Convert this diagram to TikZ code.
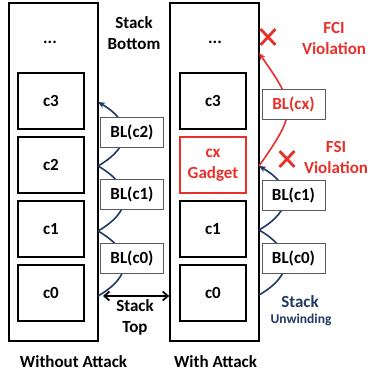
\documentclass[tikz,border=0pt]{standalone}
\usepackage{fontspec}
\setmainfont{Carlito}
\usetikzlibrary{arrows.meta,shapes.misc}
\definecolor{unwindblue}{RGB}{31,56,100}
\definecolor{attackred}{RGB}{232,48,42}
\definecolor{blgray}{RGB}{90,90,90}
\begin{document}
\begin{tikzpicture}[x=1pt,y=1pt,
  frame/.style={draw,line width=1.8pt,minimum width=89pt,minimum height=338pt,inner sep=0pt},
  cell/.style={draw,line width=1.8pt,minimum width=66pt,minimum height=56pt,align=center,font=\fontsize{17}{21}\selectfont\bfseries},
  blbox/.style={draw=blgray,line width=0.8pt,fill=white,minimum width=63pt,minimum height=30pt,inner sep=1pt,font=\fontsize{17}{20}\selectfont\bfseries},
  lbl/.style={align=center,font=\fontsize{17}{21}\selectfont\bfseries},
  ret/.style={unwindblue,line width=1.6pt},
  xmark/.style={cross out,draw=attackred,line width=2.8pt,minimum width=12pt,minimum height=13pt,inner sep=0pt}
]
\useasboundingbox (0,0) rectangle (371,374);

% Stack frames
\node[frame] (frameL) at (53.5,202) {};
\node[frame] (frameR) at (214.5,202) {};

% Without attack
\node[lbl] (dotsL) at (50,332) {...};
\node[cell] (c3L) at (51,273) {c3};
\node[cell] (c2L) at (51,209) {c2};
\node[cell] (c1L) at (51,145) {c1};
\node[cell] (c0L) at (51,81) {c0};

% With attack
\node[lbl] (dotsR) at (215,332) {...};
\node[cell] (c3R) at (213,273) {c3};
\node[cell,draw=attackred,text=attackred] (cxR) at (213,209) {cx\\Gadget};
\node[cell] (c1R) at (213,145) {c1};
\node[cell] (c0R) at (213,81) {c0};

% Return points on the frame edges
\coordinate (l0) at (98,78);
\coordinate (l1) at (98,143);
\coordinate (l2) at (98,208);
\coordinate (l3) at (98,272);
\coordinate (r0) at (259,79);
\coordinate (r1) at (259,144);
\coordinate (r2) at (259,208);
\coordinate (r3) at (259,321);

% Unwinding curves
\draw[ret] (l0) to[out=30,in=-30,looseness=1.6] (l1);
\draw[ret] (l1) to[out=30,in=-30,looseness=1.6] (l2);
\draw[ret,-{Stealth[length=7pt,width=6pt]}] (l2) to[out=30,in=-30,looseness=1.6] (l3);
\draw[ret] (r0) to[out=30,in=-30,looseness=1.6] (r1);
\draw[ret,-{Stealth[length=7pt,width=6pt]}] (r1) to[out=30,in=-30,looseness=1.6] (r2);
\draw[attackred,line width=1.6pt,-{Stealth[length=7pt,width=6pt]}] (r2) to[out=55,in=-55,looseness=1.5] (r3);

% Return addresses
\node[blbox] (blc0L) at (132,116) {BL(c0)};
\node[blbox] (blc1L) at (132,179.5) {BL(c1)};
\node[blbox] (blc2L) at (132,242) {BL(c2)};
\node[blbox] (blc0R) at (293.5,115.5) {BL(c0)};
\node[blbox] (blc1R) at (293.5,179) {BL(c1)};
\node[blbox,text=attackred] (blcxR) at (293.5,270) {BL(cx)};

% Stack top / bottom
\node[lbl] (bottom) at (134,341) {Stack\\Bottom};
\draw[line width=1.8pt,{Straight Barb[length=5pt,width=9pt]}-{Straight Barb[length=5pt,width=9pt]}] ([xshift=5pt]l0) -- (frameR.west |- l0);
\node[lbl] (top) at (135,57) {Stack\\Top};

% Violations
\node[xmark] (xfci) at (268,337) {};
\node[xmark] (xfsi) at (287,215) {};
\node[lbl,text=attackred] (fci) at (334,336) {FCI\\Violation};
\node[lbl,text=attackred] (fsi) at (336,217) {FSI\\Violation};
\node[lbl,text=unwindblue,font=\fontsize{17}{18}\selectfont\bfseries] (unwind) at (300,72) {Stack};
\node[lbl,text=unwindblue,font=\fontsize{13.5}{15}\selectfont\bfseries] (unwind2) at (301,54) {Unwinding};

% Captions
\node[lbl] (capL) at (73.5,12) {Without Attack};
\node[lbl] (capR) at (215.5,12) {With Attack};

\end{tikzpicture}
\end{document}
